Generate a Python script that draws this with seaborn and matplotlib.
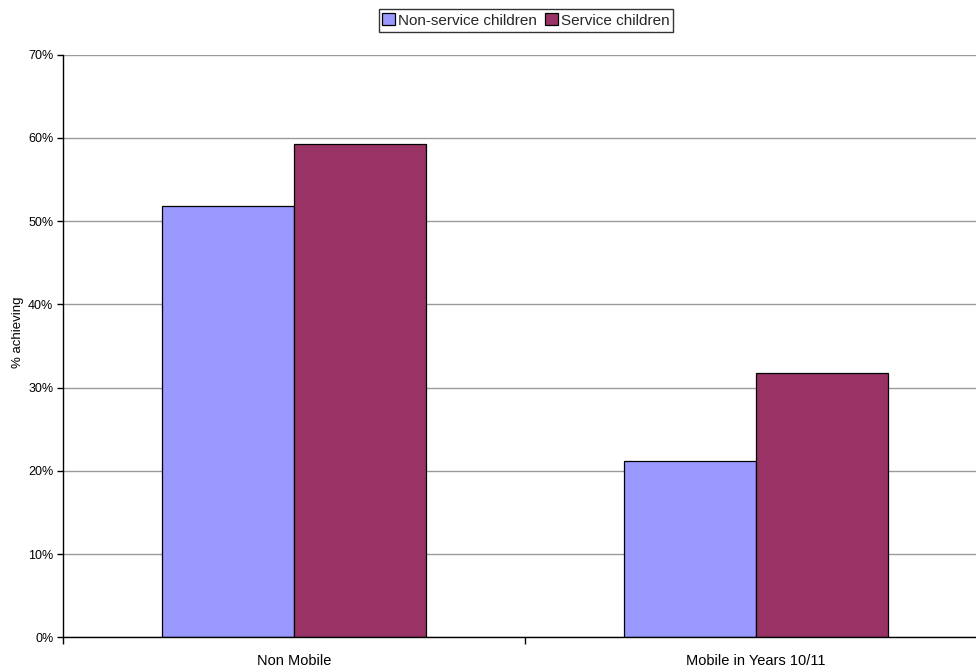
import matplotlib
matplotlib.use("Agg")
import matplotlib.pyplot as plt
import seaborn as sns
import pandas as pd
from matplotlib.patches import Patch
from matplotlib.ticker import PercentFormatter

categories = ["Non Mobile", "Mobile in Years 10/11"]
series = ["Non-service children", "Service children"]
non_service = [51.8, 21.15]
service = [59.25, 31.7]
y_ticks = [0, 10, 20, 30, 40, 50, 60, 70]

df = pd.DataFrame({
    "category": categories * 2,
    "group": [series[0]] * 2 + [series[1]] * 2,
    "value": non_service + service,
})

sns.set_theme(style="white")
plt.rcParams["font.family"] = ["Liberation Sans", "DejaVu Sans"]

colors = {series[0]: "#9999FF", series[1]: "#993366"}

fig = plt.figure(figsize=(9.76, 6.68), dpi=100)
ax = fig.add_axes([63 / 976, 1 - 637.3 / 668, 924 / 976, (637.3 - 54.7) / 668])

sns.barplot(data=df, x="category", y="value", hue="group", order=categories,
            hue_order=series, palette=colors, width=0.571, edgecolor="black",
            linewidth=0.9, saturation=1, ax=ax, legend=False)

ax.set_xlim(-0.5, 1.5)
ax.set_ylim(0, 70)
ax.set_yticks(y_ticks)
ax.yaxis.set_major_formatter(PercentFormatter(decimals=0))
ax.grid(axis="y", color="#9a9a9a", linewidth=1)
ax.set_axisbelow(True)
for s in ["top", "right"]:
    ax.spines[s].set_visible(False)
for s in ["left", "bottom"]:
    ax.spines[s].set_color("black")
    ax.spines[s].set_linewidth(1)

ax.tick_params(axis="y", left=True, length=4, width=1, color="black",
               labelsize=9, pad=3, labelcolor="black")
ax.tick_params(axis="x", which="major", bottom=False, length=0, labelsize=10.5,
               pad=12, labelcolor="black")
ax.set_xticks([-0.5, 0.5, 1.5], minor=True)
ax.tick_params(axis="x", which="minor", bottom=True, length=5, width=1, color="black")
ax.set_xlabel("")
ax.set_ylabel("")
fig.text(18 / 976, 1 - 332 / 668, "% achieving", rotation=90, ha="center",
         va="center", fontsize=9.5, color="black")

handles = [Patch(facecolor=colors[s], edgecolor="black", linewidth=0.9, label=s) for s in series]
leg = fig.legend(handles=handles, loc="center", bbox_to_anchor=(526 / 976, 1 - 20.5 / 668),
                 ncol=2, fontsize=11, frameon=True, fancybox=False,
                 handlelength=0.85, handleheight=0.85, handletextpad=0.2,
                 columnspacing=0.5, borderpad=0.25, borderaxespad=0)
leg.get_frame().set_edgecolor("black")
leg.get_frame().set_linewidth(1)

fig.savefig("out.png", dpi=100)
